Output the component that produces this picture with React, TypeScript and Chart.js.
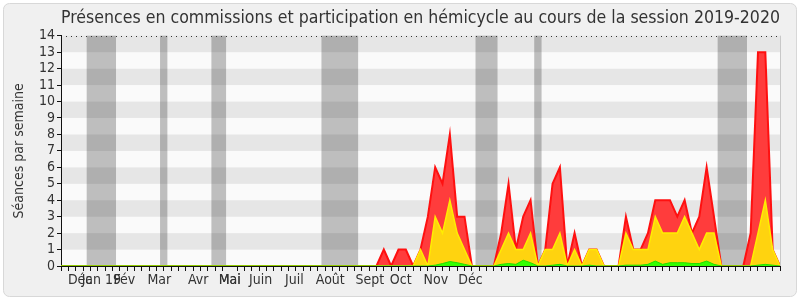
import React, { useEffect, useRef } from 'react';
import { Chart, registerables } from 'chart.js';

Chart.register(...registerables);

const TITLE = 'Présences en commissions et participation en hémicycle au cours de la session 2019-2020';
const Y_TITLE = 'Séances par semaine';
const FONT = "'DejaVu Sans Condensed', 'DejaVu Sans', sans-serif";

// one entry per week (index 0..98)
const weeks = [
  0, 1, 2, 3, 4, 5, 6, 7, 8, 9,
  10, 11, 12, 13, 14, 15, 16, 17, 18, 19,
  20, 21, 22, 23, 24, 25, 26, 27, 28, 29,
  30, 31, 32, 33, 34, 35, 36, 37, 38, 39,
  40, 41, 42, 43, 44, 45, 46, 47, 48, 49,
  50, 51, 52, 53, 54, 55, 56, 57, 58, 59,
  60, 61, 62, 63, 64, 65, 66, 67, 68, 69,
  70, 71, 72, 73, 74, 75, 76, 77, 78, 79,
  80, 81, 82, 83, 84, 85, 86, 87, 88, 89,
  90, 91, 92, 93, 94, 95, 96, 97, 98,
];

const redValues = [
  0, 0, 0, 0, 0, 0, 0, 0, 0, 0,
  0, 0, 0, 0, 0, 0, 0, 0, 0, 0,
  0, 0, 0, 0, 0, 0, 0, 0, 0, 0,
  0, 0, 0, 0, 0, 0, 0, 0, 0, 0,
  0, 0, 0, 0, 1, 0, 1, 1, 0, 1,
  3, 6, 5, 8, 3, 3, 0, 0, 0, 0,
  2, 5, 1, 3, 4, 0, 1, 5, 6, 0,
  2, 0, 1, 1, 0, 0, 0, 3, 1, 1,
  2, 4, 4, 4, 3, 4, 2, 3, 6, 3,
  0, 0, 0, 0, 2, 13, 13, 1, 0,
];

const yellowValues = [
  0, 0, 0, 0, 0, 0, 0, 0, 0, 0,
  0, 0, 0, 0, 0, 0, 0, 0, 0, 0,
  0, 0, 0, 0, 0, 0, 0, 0, 0, 0,
  0, 0, 0, 0, 0, 0, 0, 0, 0, 0,
  0, 0, 0, 0, 0, 0, 0, 0, 0, 1,
  0, 3, 2, 4, 2, 1, 0, 0, 0, 0,
  1, 2, 1, 1, 2, 0, 1, 1, 2, 0,
  1, 0, 1, 1, 0, 0, 0, 2, 1, 1,
  1, 3, 2, 2, 2, 3, 2, 1, 2, 2,
  0, 0, 0, 0, 0, 2, 4, 1, 0,
];

const greenValues = [
  0, 0, 0, 0, 0, 0, 0, 0, 0, 0,
  0, 0, 0, 0, 0, 0, 0, 0, 0, 0,
  0, 0, 0, 0, 0, 0, 0, 0, 0, 0,
  0, 0, 0, 0, 0, 0, 0, 0, 0, 0,
  0, 0, 0, 0, 0, 0, 0, 0, 0, 0,
  0, 0.05, 0.15, 0.27, 0.2, 0.1, 0, 0, 0, 0,
  0.1, 0.15, 0.1, 0.35, 0.2, 0, 0, 0.05, 0.1, 0,
  0, 0, 0.05, 0, 0, 0, 0, 0.05, 0.05, 0.05,
  0.1, 0.3, 0.1, 0.2, 0.2, 0.2, 0.15, 0.15, 0.3, 0.1,
  0, 0, 0, 0, 0, 0.05, 0.1, 0.05, 0,
];

const monthLabels = ['Déc', 'Jan 19', 'Fév', 'Mar', 'Avr', 'Mai', 'Juin', 'Juil', 'Août', 'Sept', 'Oct', 'Nov', 'Déc'];
const monthPositions = [2.6, 5.5, 8.65, 13.4, 18.7, 23.0, 27.2, 31.8, 36.7, 42.1, 46.3, 51.1, 55.8];

const vacationStarts = [3.5, 13.5, 20.5, 35.5, 56.5, 64.5, 89.5];
const vacationEnds = [7.5, 14.5, 22.5, 40.5, 59.5, 65.5, 93.5];

const yTickValues = [0, 1, 2, 3, 4, 5, 6, 7, 8, 9, 10, 11, 12, 13, 14];

const decorPlugin = {
  id: 'decor',
  beforeDraw(chart: any) {
    const { ctx, width, height, chartArea, scales } = chart;
    const xs = scales.x;
    const ys = scales.y;
    ctx.save();
    ctx.fillStyle = '#ffffff';
    ctx.fillRect(0, 0, width, height);
    ctx.beginPath();
    ctx.roundRect(3.5, 3.5, width - 7, height - 7, 6);
    ctx.fillStyle = '#f0f0f0';
    ctx.fill();
    ctx.strokeStyle = '#d8d8d8';
    ctx.lineWidth = 1;
    ctx.stroke();

    const w = chartArea.right - chartArea.left;
    for (let i = 0; i < yTickValues.length - 1; i++) {
      const v = yTickValues[i];
      const top = ys.getPixelForValue(v + 1);
      const bot = ys.getPixelForValue(v);
      ctx.fillStyle = v % 2 === 1 ? '#e6e6e6' : '#fafafa';
      ctx.fillRect(chartArea.left, top, w, bot - top);
    }

    ctx.fillStyle = 'rgba(0,0,0,0.24)';
    vacationStarts.forEach((s, i) => {
      const a = xs.getPixelForValue(s);
      const b = xs.getPixelForValue(vacationEnds[i]);
      ctx.fillRect(a, chartArea.top, b - a, chartArea.bottom - chartArea.top);
    });

    // dotted line at the top value
    const yTop = Math.round(ys.getPixelForValue(yTickValues[yTickValues.length - 1])) + 0.5;
    ctx.strokeStyle = '#333';
    ctx.setLineDash([1, 4]);
    ctx.beginPath();
    ctx.moveTo(chartArea.left, yTop);
    ctx.lineTo(chartArea.right, yTop);
    ctx.stroke();
    ctx.setLineDash([]);

    // right border
    ctx.strokeStyle = '#c8c8c8';
    ctx.beginPath();
    ctx.moveTo(Math.round(chartArea.right) + 0.5, chartArea.top);
    ctx.lineTo(Math.round(chartArea.right) + 0.5, chartArea.bottom);
    ctx.stroke();
    ctx.restore();
  },
};

export default function App() {
  const ref = useRef<HTMLCanvasElement | null>(null);

  useEffect(() => {
    if (!ref.current) return;
    const mk = (vals: number[]) => weeks.map((w, i) => ({ x: w, y: vals[i] }));
    const chart = new Chart(ref.current, {
      type: 'line',
      data: {
        datasets: [
          {
            label: 'green',
            data: mk(greenValues),
            borderColor: '#22dd00',
            backgroundColor: '#33ff00',
            borderWidth: 1,
            fill: 'origin',
            pointRadius: 0,
            tension: 0,
            order: 1,
          },
          {
            label: 'yellow',
            data: mk(yellowValues),
            borderColor: '#ffee00',
            backgroundColor: '#ffd30f',
            borderWidth: 1.5,
            fill: 'origin',
            pointRadius: 0,
            tension: 0,
            order: 2,
          },
          {
            label: 'red',
            data: mk(redValues),
            borderColor: '#ff1010',
            backgroundColor: '#ff3c3c',
            borderWidth: 2,
            fill: 'origin',
            pointRadius: 0,
            tension: 0,
            order: 3,
          },
        ],
      },
      options: {
        animation: false,
        responsive: false,
        maintainAspectRatio: false,
        layout: { padding: { left: 0, right: 20, top: 0, bottom: 0 } },
        plugins: {
          legend: { display: false },
          tooltip: { enabled: false },
          title: {
            display: true,
            text: TITLE,
            fullSize: false,
            color: '#333',
            font: { family: FONT, size: 18.5, weight: 'normal' },
            padding: { top: 7, bottom: 6.5 },
          },
        },
        scales: {
          x: {
            type: 'linear',
            min: weeks[0],
            max: weeks[weeks.length - 1],
            afterBuildTicks: (scale: any) => {
              const t = [...weeks, ...monthPositions].sort((a, b) => a - b);
              scale.ticks = t.map((v) => ({ value: v }));
            },
            afterFit: (scale: any) => {
              scale.height = 34;
            },
            ticks: {
              autoSkip: false,
              maxRotation: 0,
              minRotation: 0,
              padding: 1,
              color: '#333',
              font: { family: FONT, size: 14 },
              callback: (v: any) => {
                const i = monthPositions.indexOf(Number(v));
                return i >= 0 ? monthLabels[i] : '';
              },
            },
            grid: {
              drawOnChartArea: false,
              drawTicks: true,
              tickLength: 5,
              tickColor: (c: any) =>
                c.tick && monthPositions.includes(c.tick.value) ? 'rgba(0,0,0,0)' : '#111',
            },
            border: { color: '#111' },
          },
          y: {
            min: yTickValues[0],
            max: yTickValues[yTickValues.length - 1],
            afterBuildTicks: (scale: any) => {
              scale.ticks = yTickValues.map((v) => ({ value: v }));
            },
            afterFit: (scale: any) => {
              scale.width = 61;
            },
            ticks: {
              autoSkip: false,
              padding: 2,
              color: '#333',
              font: { family: FONT, size: 14 },
            },
            grid: { drawOnChartArea: false, tickLength: 4, tickColor: '#111' },
            border: { color: '#111' },
            title: {
              display: true,
              text: Y_TITLE,
              color: '#333',
              font: { family: FONT, size: 14 },
              padding: { top: 11, bottom: 0 },
            },
          },
        },
      },
      plugins: [decorPlugin],
    });
    return () => chart.destroy();
  }, []);

  return (
    <div style={{ position: 'fixed', left: 0, top: 0, width: 800, height: 300 }}>
      <canvas ref={ref} width={800} height={300} style={{ display: 'block' }} />
    </div>
  );
}
